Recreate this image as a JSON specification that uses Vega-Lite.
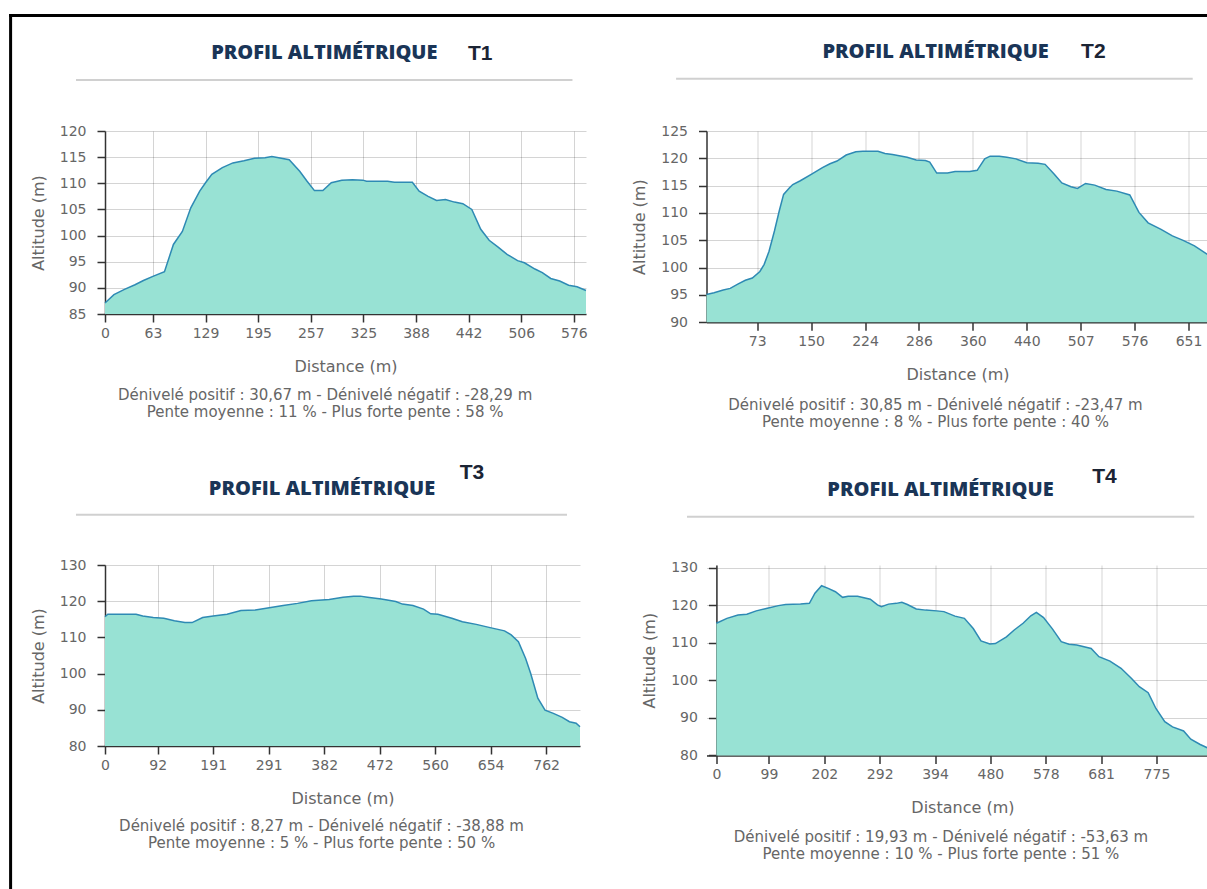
{
  "$schema": "https://vega.github.io/schema/vega-lite/v6.json",
  "padding": {"left": 8, "top": 13, "right": 0, "bottom": 0},
  "background": "white",
  "bounds": "flush",
  "columns": 2,
  "align": "each",
  "spacing": {"row": 242, "column": 120.5},
  "config": {
    "view": {"stroke": null},
    "axis": {
      "labelFont": "DejaVu Sans", "labelFontSize": 14, "labelColor": "#666666",
      "titleFont": "DejaVu Sans", "titleFontSize": 16, "titleColor": "#666666", "titleFontWeight": "normal",
      "domainColor": "#333333", "domainWidth": 1.5, "tickColor": "#333333", "tickWidth": 1.5, "tickSize": 8,
      "gridColor": "#000000", "gridOpacity": 0.17, "gridWidth": 1, "zindex": 1, "tickCount": 30
    },
    "axisX": {"labelPadding": 4, "titlePadding": 18, "labelAngle": 0, "labelFlush": false, "labelOverlap": false},
    "axisY": {"labelPadding": 11, "titlePadding": 13, "labelOverlap": false}
  },
  "datasets": {
    "t1": [
      {"pos":0,"alt":87.1},{"pos":1.7,"alt":88.7},{"pos":3.7,"alt":89.7},{"pos":5.7,"alt":90.6},{"pos":7.3,"alt":91.4},{"pos":9.1,"alt":92.2},{"pos":11.3,"alt":93.1},{"pos":13.0,"alt":98.3},{"pos":14.7,"alt":100.8},{"pos":16.3,"alt":105.3},{"pos":18.0,"alt":108.5},{"pos":19.1,"alt":110.1},{"pos":20.3,"alt":111.7},{"pos":22.3,"alt":113.0},{"pos":24.3,"alt":113.9},{"pos":26.4,"alt":114.3},{"pos":28.4,"alt":114.8},{"pos":30.4,"alt":114.9},{"pos":31.7,"alt":115.1},{"pos":33.0,"alt":114.9},{"pos":35.0,"alt":114.5},{"pos":37.0,"alt":112.3},{"pos":38.4,"alt":110.4},{"pos":39.8,"alt":108.6},{"pos":41.4,"alt":108.6},{"pos":43.0,"alt":110.1},{"pos":45.0,"alt":110.6},{"pos":47.0,"alt":110.7},{"pos":49.0,"alt":110.6},{"pos":49.7,"alt":110.4},{"pos":53.7,"alt":110.4},{"pos":55.0,"alt":110.2},{"pos":58.4,"alt":110.2},{"pos":59.7,"alt":108.5},{"pos":61.4,"alt":107.5},{"pos":63.0,"alt":106.7},{"pos":64.7,"alt":106.9},{"pos":66.4,"alt":106.4},{"pos":68.0,"alt":106.1},{"pos":69.7,"alt":105.0},{"pos":71.4,"alt":101.2},{"pos":73.0,"alt":99.1},{"pos":74.7,"alt":97.8},{"pos":76.4,"alt":96.4},{"pos":78.4,"alt":95.2},{"pos":79.7,"alt":94.8},{"pos":81.7,"alt":93.6},{"pos":83.1,"alt":92.9},{"pos":84.7,"alt":91.8},{"pos":86.4,"alt":91.3},{"pos":88.1,"alt":90.5},{"pos":89.7,"alt":90.2},{"pos":91.4,"alt":89.5}
    ],
    "t2": [
      {"pos":0,"alt":95.1},{"pos":1.4,"alt":95.4},{"pos":3.1,"alt":95.9},{"pos":4.4,"alt":96.2},{"pos":5.8,"alt":97.0},{"pos":7.2,"alt":97.7},{"pos":8.5,"alt":98.1},{"pos":9.9,"alt":99.3},{"pos":10.7,"alt":100.6},{"pos":11.6,"alt":103.0},{"pos":12.6,"alt":106.7},{"pos":13.5,"alt":110.4},{"pos":14.3,"alt":113.4},{"pos":15.4,"alt":114.6},{"pos":16.0,"alt":115.2},{"pos":17.4,"alt":115.9},{"pos":19.5,"alt":117.1},{"pos":21.5,"alt":118.3},{"pos":22.9,"alt":119.0},{"pos":24.2,"alt":119.5},{"pos":25.9,"alt":120.6},{"pos":27.7,"alt":121.2},{"pos":29.0,"alt":121.3},{"pos":31.8,"alt":121.3},{"pos":33.1,"alt":120.9},{"pos":34.5,"alt":120.7},{"pos":37.2,"alt":120.2},{"pos":38.9,"alt":119.7},{"pos":40.6,"alt":119.6},{"pos":41.4,"alt":119.3},{"pos":42.7,"alt":117.3},{"pos":44.7,"alt":117.3},{"pos":46.1,"alt":117.6},{"pos":48.8,"alt":117.6},{"pos":50.2,"alt":117.8},{"pos":51.6,"alt":119.9},{"pos":52.6,"alt":120.4},{"pos":54.3,"alt":120.4},{"pos":55.7,"alt":120.2},{"pos":57.4,"alt":119.9},{"pos":59.4,"alt":119.2},{"pos":61.5,"alt":119.1},{"pos":62.8,"alt":118.9},{"pos":64.5,"alt":117.1},{"pos":65.9,"alt":115.5},{"pos":67.6,"alt":114.8},{"pos":68.8,"alt":114.5},{"pos":70.3,"alt":115.4},{"pos":72.0,"alt":115.1},{"pos":74.1,"alt":114.3},{"pos":76.1,"alt":114.0},{"pos":78.5,"alt":113.3},{"pos":80.2,"alt":110.1},{"pos":81.9,"alt":108.2},{"pos":84.3,"alt":107.0},{"pos":86.4,"alt":105.8},{"pos":88.4,"alt":105.0},{"pos":90.5,"alt":104.0},{"pos":93.1,"alt":102.3}
    ],
    "t3": [
      {"pos":0,"alt":115.7},{"pos":0.5,"alt":116.4},{"pos":2.4,"alt":116.4},{"pos":5.6,"alt":116.4},{"pos":6.8,"alt":115.9},{"pos":8.7,"alt":115.5},{"pos":10.6,"alt":115.3},{"pos":12.5,"alt":114.6},{"pos":14.4,"alt":114.1},{"pos":15.7,"alt":114.1},{"pos":17.6,"alt":115.5},{"pos":19.5,"alt":115.9},{"pos":22.0,"alt":116.4},{"pos":24.5,"alt":117.4},{"pos":27.1,"alt":117.6},{"pos":29.6,"alt":118.2},{"pos":32.1,"alt":118.8},{"pos":34.7,"alt":119.4},{"pos":37.2,"alt":120.1},{"pos":40.4,"alt":120.5},{"pos":42.9,"alt":121.1},{"pos":44.8,"alt":121.4},{"pos":46.0,"alt":121.4},{"pos":47.3,"alt":121.1},{"pos":49.8,"alt":120.6},{"pos":52.4,"alt":119.9},{"pos":53.6,"alt":119.2},{"pos":55.5,"alt":118.8},{"pos":57.4,"alt":117.8},{"pos":58.7,"alt":116.5},{"pos":60.0,"alt":116.4},{"pos":62.5,"alt":115.3},{"pos":64.4,"alt":114.3},{"pos":66.9,"alt":113.6},{"pos":69.4,"alt":112.7},{"pos":72.0,"alt":111.8},{"pos":73.2,"alt":110.7},{"pos":74.5,"alt":108.8},{"pos":75.8,"alt":104.2},{"pos":76.7,"alt":100.1},{"pos":78.0,"alt":93.2},{"pos":79.3,"alt":89.9},{"pos":80.8,"alt":89.0},{"pos":82.4,"alt":87.9},{"pos":83.7,"alt":86.7},{"pos":84.9,"alt":86.3},{"pos":85.6,"alt":85.3}
    ],
    "t4": [
      {"pos":0,"alt":115.2},{"pos":1.9,"alt":116.5},{"pos":3.9,"alt":117.4},{"pos":5.5,"alt":117.6},{"pos":7.2,"alt":118.5},{"pos":9.2,"alt":119.2},{"pos":11.2,"alt":119.9},{"pos":12.5,"alt":120.2},{"pos":15.2,"alt":120.3},{"pos":16.8,"alt":120.5},{"pos":17.8,"alt":123.2},{"pos":19.0,"alt":125.2},{"pos":20.2,"alt":124.5},{"pos":21.5,"alt":123.6},{"pos":22.8,"alt":122.1},{"pos":23.8,"alt":122.4},{"pos":25.5,"alt":122.4},{"pos":27.8,"alt":121.6},{"pos":29.1,"alt":120.1},{"pos":29.8,"alt":119.6},{"pos":31.1,"alt":120.3},{"pos":32.5,"alt":120.5},{"pos":33.5,"alt":120.8},{"pos":34.5,"alt":120.2},{"pos":36.1,"alt":119.0},{"pos":37.8,"alt":118.7},{"pos":39.8,"alt":118.5},{"pos":41.1,"alt":118.3},{"pos":43.1,"alt":117.1},{"pos":44.8,"alt":116.5},{"pos":46.4,"alt":113.8},{"pos":47.8,"alt":110.5},{"pos":49.4,"alt":109.7},{"pos":50.4,"alt":109.8},{"pos":52.4,"alt":111.6},{"pos":53.8,"alt":113.4},{"pos":55.4,"alt":115.2},{"pos":56.8,"alt":117.2},{"pos":57.8,"alt":118.1},{"pos":59.1,"alt":116.7},{"pos":60.7,"alt":113.7},{"pos":62.3,"alt":110.3},{"pos":63.7,"alt":109.6},{"pos":65.1,"alt":109.4},{"pos":67.7,"alt":108.5},{"pos":69.1,"alt":106.3},{"pos":71.1,"alt":105.1},{"pos":73.1,"alt":103.2},{"pos":75.0,"alt":100.5},{"pos":76.4,"alt":98.3},{"pos":78.0,"alt":96.7},{"pos":79.4,"alt":92.5},{"pos":81.0,"alt":89.0},{"pos":82.4,"alt":87.6},{"pos":84.4,"alt":86.5},{"pos":85.7,"alt":84.3},{"pos":87.4,"alt":82.9},{"pos":88.9,"alt":81.9}
    ]
  },
  "concat": [
    {
      "width": 481, "height": 183,
      "layer": [
        {
          "data": {"name": "t1"},
          "mark": {"type": "area", "color": "#98e2d4", "opacity": 1, "line": {"color": "#2e8ab4", "strokeWidth": 1.5}},
          "encoding": {
            "x": {"field": "pos", "type": "quantitative", "scale": {"domain": [0, 91.4], "nice": false, "zero": false},
                  "axis": {"title": "Distance (m)", "values": [0, 9.1, 19.1, 29.1, 39.1, 49.1, 59.1, 69.1, 79.1, 89.1],
                           "labelExpr": "['0','63','129','195','257','325','388','442','506','576'][ceil(datum.value/10)]"}},
            "y": {"field": "alt", "type": "quantitative", "scale": {"domain": [85, 120], "nice": false, "zero": false},
                  "axis": {"title": "Altitude (m)", "tickCount": 30, "values": [85, 90, 95, 100, 105, 110, 115, 120]}},
            "y2": {"datum": 85}
          }
        },
        {
          "data": {"values": [{}]},
          "mark": {"type": "rule", "color": "#d0d0d0", "strokeWidth": 2},
          "encoding": {"x": {"datum": -5.51}, "x2": {"datum": 88.83}, "y": {"datum": 129.75}}
        },
        {
          "data": {"values": [{}]},
          "mark": {"type": "text", "text": "PROFIL ALTIMÉTRIQUE", "font": "Open Sans", "fontSize": 20, "fontWeight": 800, "color": "#1a3557", "align": "center", "baseline": "alphabetic"},
          "encoding": {"x": {"datum": 41.67}, "y": {"datum": 133.83}}
        },
        {
          "data": {"values": [{}]},
          "mark": {"type": "text", "text": "T1", "font": "Liberation Sans", "fontSize": 21, "fontWeight": "bold", "color": "#1b2434", "align": "center", "baseline": "alphabetic"},
          "encoding": {"x": {"datum": 71.3}, "y": {"datum": 133.52}}
        },
        {
          "data": {"values": [{}]},
          "mark": {"type": "text", "text": "Dénivelé positif : 30,67 m - Dénivelé négatif : -28,29 m", "font": "DejaVu Sans", "fontSize": 15, "color": "#666666", "align": "center", "baseline": "middle"},
          "encoding": {"x": {"datum": 41.82}, "y": {"datum": 69.6}}
        },
        {
          "data": {"values": [{}]},
          "mark": {"type": "text", "text": "Pente moyenne : 11 % - Plus forte pente : 58 %", "font": "DejaVu Sans", "fontSize": 15, "color": "#666666", "align": "center", "baseline": "middle"},
          "encoding": {"x": {"datum": 41.82}, "y": {"datum": 66.35}}
        },
        {
          "data": {"values": [{}]},
          "mark": {"type": "rule", "color": "#000000", "strokeWidth": 3, "strokeCap": "square"},
          "encoding": {"x": {"datum": -17.938}, "x2": {"datum": 211.11}, "y": {"datum": 142.07}}
        },
        {
          "data": {"values": [{}]},
          "mark": {"type": "rule", "color": "#000000", "strokeWidth": 3, "strokeCap": "square"},
          "encoding": {"x": {"datum": -17.938}, "y": {"datum": 142.07}, "y2": {"datum": -27.27}}
        }
      ]
    },
    {
      "width": 502, "height": 191.3,
      "layer": [
        {
          "data": {"name": "t2"},
          "mark": {"type": "area", "color": "#98e2d4", "opacity": 1, "line": {"color": "#2e8ab4", "strokeWidth": 1.5}},
          "encoding": {
            "x": {"field": "pos", "type": "quantitative", "scale": {"domain": [0, 93.1], "nice": false, "zero": false},
                  "axis": {"title": "Distance (m)", "values": [9.4, 19.4, 29.4, 39.4, 49.4, 59.4, 69.4, 79.4, 89.4],
                           "labelExpr": "['','73','150','224','286','360','440','507','576','651'][ceil(datum.value/10)]"}},
            "y": {"field": "alt", "type": "quantitative", "scale": {"domain": [90, 125], "nice": false, "zero": false},
                  "axis": {"title": "Altitude (m)", "tickCount": 30, "values": [90, 95, 100, 105, 110, 115, 120, 125]}},
            "y2": {"datum": 90}
          }
        },
        {
          "data": {"values": [{}]},
          "mark": {"type": "rule", "color": "#d0d0d0", "strokeWidth": 2},
          "encoding": {"x": {"datum": -5.64}, "x2": {"datum": 90.17}, "y": {"datum": 134.57}}
        },
        {
          "data": {"values": [{}]},
          "mark": {"type": "text", "text": "PROFIL ALTIMÉTRIQUE", "font": "Open Sans", "fontSize": 20, "fontWeight": 800, "color": "#1a3557", "align": "center", "baseline": "alphabetic"},
          "encoding": {"x": {"datum": 42.49}, "y": {"datum": 138.41}}
        },
        {
          "data": {"values": [{}]},
          "mark": {"type": "text", "text": "T2", "font": "Liberation Sans", "fontSize": 21, "fontWeight": "bold", "color": "#1b2434", "align": "center", "baseline": "alphabetic"},
          "encoding": {"x": {"datum": 71.74}, "y": {"datum": 138.3}}
        },
        {
          "data": {"values": [{}]},
          "mark": {"type": "text", "text": "Dénivelé positif : 30,85 m - Dénivelé négatif : -23,47 m", "font": "DejaVu Sans", "fontSize": 15, "color": "#666666", "align": "center", "baseline": "middle"},
          "encoding": {"x": {"datum": 42.47}, "y": {"datum": 74.78}}
        },
        {
          "data": {"values": [{}]},
          "mark": {"type": "text", "text": "Pente moyenne : 8 % - Plus forte pente : 40 %", "font": "DejaVu Sans", "fontSize": 15, "color": "#666666", "align": "center", "baseline": "middle"},
          "encoding": {"x": {"datum": 42.47}, "y": {"datum": 71.67}}
        }
      ]
    },
    {
      "width": 475, "height": 181,
      "layer": [
        {
          "data": {"name": "t3"},
          "mark": {"type": "area", "color": "#98e2d4", "opacity": 1, "line": {"color": "#2e8ab4", "strokeWidth": 1.5}},
          "encoding": {
            "x": {"field": "pos", "type": "quantitative", "scale": {"domain": [0, 85.6], "nice": false, "zero": false},
                  "axis": {"title": "Distance (m)", "values": [0, 9.5, 19.5, 29.5, 39.5, 49.5, 59.5, 69.5, 79.5],
                           "labelExpr": "['0','92','191','291','382','472','560','654','762'][ceil(datum.value/10)]"}},
            "y": {"field": "alt", "type": "quantitative", "scale": {"domain": [80, 130], "nice": false, "zero": false},
                  "axis": {"title": "Altitude (m)", "tickCount": 30, "values": [80, 90, 100, 110, 120, 130]}},
            "y2": {"datum": 80}
          }
        },
        {
          "data": {"values": [{}]},
          "mark": {"type": "rule", "color": "#d0d0d0", "strokeWidth": 2},
          "encoding": {"x": {"datum": -5.23}, "x2": {"datum": 83.26}, "y": {"datum": 143.9}}
        },
        {
          "data": {"values": [{}]},
          "mark": {"type": "text", "text": "PROFIL ALTIMÉTRIQUE", "font": "Open Sans", "fontSize": 20, "fontWeight": 800, "color": "#1a3557", "align": "center", "baseline": "alphabetic"},
          "encoding": {"x": {"datum": 39.11}, "y": {"datum": 149.28}}
        },
        {
          "data": {"values": [{}]},
          "mark": {"type": "text", "text": "T3", "font": "Liberation Sans", "fontSize": 21, "fontWeight": "bold", "color": "#1b2434", "align": "center", "baseline": "alphabetic"},
          "encoding": {"x": {"datum": 66.14}, "y": {"datum": 153.84}}
        },
        {
          "data": {"values": [{}]},
          "mark": {"type": "text", "text": "Dénivelé positif : 8,27 m - Dénivelé négatif : -38,88 m", "font": "DejaVu Sans", "fontSize": 15, "color": "#666666", "align": "center", "baseline": "middle"},
          "encoding": {"x": {"datum": 39.02}, "y": {"datum": 57.98}}
        },
        {
          "data": {"values": [{}]},
          "mark": {"type": "text", "text": "Pente moyenne : 5 % - Plus forte pente : 50 %", "font": "DejaVu Sans", "fontSize": 15, "color": "#666666", "align": "center", "baseline": "middle"},
          "encoding": {"x": {"datum": 39.02}, "y": {"datum": 53.29}}
        }
      ]
    },
    {
      "width": 502, "height": 190.4,
      "layer": [
        {
          "data": {"name": "t4"},
          "mark": {"type": "area", "color": "#98e2d4", "opacity": 1, "line": {"color": "#2e8ab4", "strokeWidth": 1.5}},
          "encoding": {
            "x": {"field": "pos", "type": "quantitative", "scale": {"domain": [-1.79, 88.9], "nice": false, "zero": false},
                  "axis": {"title": "Distance (m)", "titleX": 255.9, "values": [0, 9.5, 19.5, 29.5, 39.5, 49.5, 59.5, 69.5, 79.5],
                           "labelExpr": "['0','99','202','292','394','480','578','681','775'][ceil(datum.value/10)]"}},
            "y": {"field": "alt", "type": "quantitative", "scale": {"domain": [80, 130.72], "nice": false, "zero": false},
                  "axis": {"title": "Altitude (m)", "tickCount": 30, "offset": -9.9, "values": [80, 90, 100, 110, 120, 130]}},
            "y2": {"datum": 80}
          }
        },
        {
          "data": {"values": [{}]},
          "mark": {"type": "rule", "color": "#d0d0d0", "strokeWidth": 2},
          "encoding": {"x": {"datum": -5.31}, "x2": {"datum": 86.32}, "y": {"datum": 143.59}}
        },
        {
          "data": {"values": [{}]},
          "mark": {"type": "text", "text": "PROFIL ALTIMÉTRIQUE", "font": "Open Sans", "fontSize": 20, "fontWeight": 800, "color": "#1a3557", "align": "center", "baseline": "alphabetic"},
          "encoding": {"x": {"datum": 40.48}, "y": {"datum": 149.05}}
        },
        {
          "data": {"values": [{}]},
          "mark": {"type": "text", "text": "T4", "font": "Liberation Sans", "fontSize": 21, "fontWeight": "bold", "color": "#1b2434", "align": "center", "baseline": "alphabetic"},
          "encoding": {"x": {"datum": 70.11}, "y": {"datum": 152.64}}
        },
        {
          "data": {"values": [{}]},
          "mark": {"type": "text", "text": "Dénivelé positif : 19,93 m - Dénivelé négatif : -53,63 m", "font": "DejaVu Sans", "fontSize": 15, "color": "#666666", "align": "center", "baseline": "middle"},
          "encoding": {"x": {"datum": 40.57}, "y": {"datum": 58.21}}
        },
        {
          "data": {"values": [{}]},
          "mark": {"type": "text", "text": "Pente moyenne : 10 % - Plus forte pente : 51 %", "font": "DejaVu Sans", "fontSize": 15, "color": "#666666", "align": "center", "baseline": "middle"},
          "encoding": {"x": {"datum": 40.57}, "y": {"datum": 53.68}}
        }
      ]
    }
  ]
}
